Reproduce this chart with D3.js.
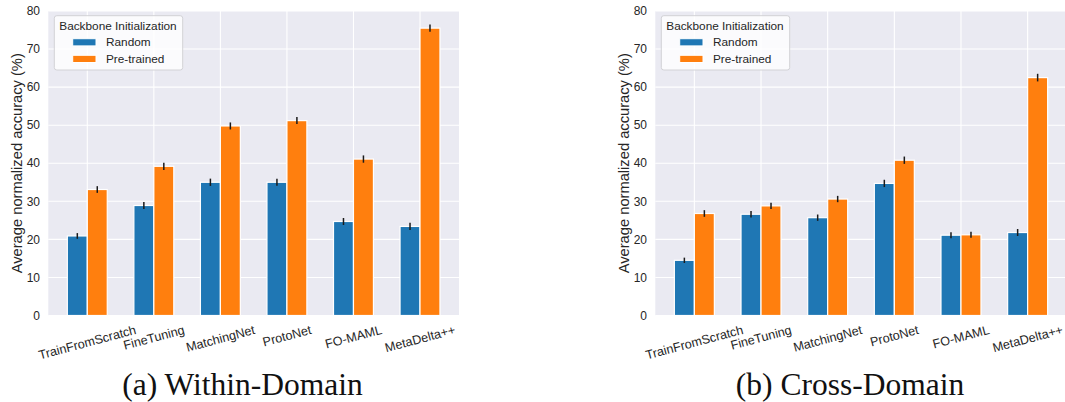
<!DOCTYPE html>
<html><head><meta charset="utf-8">
<script src="https://cdn.jsdelivr.net/npm/d3@7"></script>
<style>body{margin:0;background:#fff} svg{display:block}</style>
</head><body>
<svg id="chart" width="1065" height="402"></svg>
<script>
const categories = ["TrainFromScratch","FineTuning","MatchingNet","ProtoNet","FO-MAML","MetaDelta++"];
const seriesNames = ["Random","Pre-trained"];
const withinRandom = [20.9, 28.9, 35.0, 35.0, 24.7, 23.4];
const withinRandomErr = [0.75, 0.92, 0.96, 0.92, 0.92, 0.96];
const withinPretrained = [33.1, 39.2, 49.8, 51.2, 41.1, 75.5];
const withinPretrainedErr = [0.88, 0.96, 0.92, 0.92, 0.96, 0.96];
const crossRandom = [14.5, 26.6, 25.7, 34.7, 21.1, 21.8];
const crossRandomErr = [0.7, 0.83, 0.83, 0.96, 0.79, 0.92];
const crossPretrained = [26.8, 28.8, 30.6, 40.8, 21.2, 62.5];
const crossPretrainedErr = [0.88, 0.83, 0.83, 0.96, 0.79, 1.0];
const yTicks = [0,10,20,30,40,50,60,70,80];
const yLabel = "Average normalized accuracy (%)";
const legendTitle = "Backbone Initialization";
const captions = ["(a) Within-Domain", "(b) Cross-Domain"];
const colors = ["#1f77b4", "#ff7f0e"];

const svg = d3.select("#chart");
svg.append("rect").attr("width",1065).attr("height",402).attr("fill","#fff");
const TXT = "#262626";
const SANS = "'Liberation Sans', Arial, sans-serif";

const panels = [
  {x0:48.3, x1:459, cap:242.5, series:[withinRandom, withinPretrained], errs:[withinRandomErr, withinPretrainedErr], caption:captions[0]},
  {x0:655.3, x1:1066.7, cap:850, series:[crossRandom, crossPretrained], errs:[crossRandomErr, crossPretrainedErr], caption:captions[1]}
];

const y = d3.scaleLinear().domain([0,80]).range([315.5, 11]);
const barW = 0.3;

panels.forEach(p => {
  const x = d3.scaleLinear().domain([-0.586, categories.length - 1 + 0.586]).range([p.x0, p.x1]);
  const g = svg.append("g");
  g.append("rect").attr("x",p.x0).attr("y",y(80)).attr("width",p.x1-p.x0).attr("height",y(0)-y(80)).attr("fill","#EAEAF2");
  g.selectAll(".hg").data(yTicks).join("line")
    .attr("x1",p.x0).attr("x2",p.x1).attr("y1",d=>y(d)).attr("y2",d=>y(d))
    .attr("stroke","#fff").attr("stroke-width",1.1);
  g.selectAll(".vg").data(categories).join("line")
    .attr("x1",(d,i)=>x(i)).attr("x2",(d,i)=>x(i)).attr("y1",y(0)).attr("y2",y(80))
    .attr("stroke","#fff").attr("stroke-width",1.1);
  p.series.forEach((vals, s) => {
    const off = s === 0 ? -barW : 0;
    g.selectAll(".bar"+s).data(vals).join("rect")
      .attr("x",(d,i)=>x(i+off)).attr("width",x(barW)-x(0))
      .attr("y",d=>y(d)).attr("height",d=>y(0)-y(d))
      .attr("fill",colors[s]).attr("stroke","#fff").attr("stroke-width",1.2);
  });
  p.series.forEach((vals, s) => {
    const off = s === 0 ? -barW/2 : barW/2;
    g.selectAll(".err"+s).data(vals).join("line")
      .attr("x1",(d,i)=>x(i+off)).attr("x2",(d,i)=>x(i+off))
      .attr("y1",(d,i)=>y(d - p.errs[s][i])).attr("y2",(d,i)=>y(d + p.errs[s][i]))
      .attr("stroke","#1a1a1a").attr("stroke-width",1.5);
  });
  g.selectAll(".yt").data(yTicks).join("text")
    .attr("x",p.x0-8.3).attr("y",d=>y(d)).attr("dy","0.35em")
    .attr("text-anchor","end").attr("font-family",SANS).attr("font-size",12).attr("fill",TXT)
    .text(d=>d);
  g.append("text")
    .attr("transform",`translate(${p.x0-31.5},${(y(0)+y(80))/2}) rotate(-90)`)
    .attr("text-anchor","middle").attr("dy","0.35em")
    .attr("font-family",SANS).attr("font-size",14.7).attr("fill",TXT).text(yLabel);
  const fsX = 12.6;
  const sin = Math.sin(15*Math.PI/180), cos = Math.cos(15*Math.PI/180);
  categories.forEach((c,i) => {
    const t = g.append("text").attr("text-anchor","middle").attr("dy","0.35em")
      .attr("font-family",SANS).attr("font-size",fsX).attr("fill",TXT).text(c);
    const w = t.node().getComputedTextLength();
    const H = w*sin + 1.117*fsX*cos;
    t.attr("transform",`translate(${x(i)},${322.5 + H/2}) rotate(-15)`);
  });
  const lx = p.x0 + 6, ly = 15.7;
  const lg = g.append("g");
  lg.append("rect").attr("x",lx).attr("y",ly).attr("width",128.4).attr("height",54.3)
    .attr("rx",2.5).attr("fill","#fff").attr("fill-opacity",0.8)
    .attr("stroke","#d2d2d6").attr("stroke-width",1);
  lg.append("text").attr("x",lx+5).attr("y",29.5).attr("font-family",SANS).attr("font-size",11.8)
    .attr("fill",TXT).text(legendTitle);
  seriesNames.forEach((n,s) => {
    const py = s===0 ? 38.7 : 55.3;
    lg.append("rect").attr("x",lx+18.4).attr("y",py).attr("width",23.3).attr("height",7.2)
      .attr("fill",colors[s]).attr("stroke","#fff").attr("stroke-width",1);
    lg.append("text").attr("x",lx+51.7).attr("y",py+7.6).attr("font-family",SANS).attr("font-size",11.8)
      .attr("fill",TXT).text(n);
  });
  svg.append("text").attr("x",p.cap).attr("y",395).attr("text-anchor","middle")
    .attr("font-family","'Liberation Serif','Times New Roman',serif").attr("font-size",31.5)
    .attr("fill","#111").text(p.caption);
});
</script>
</body></html>
